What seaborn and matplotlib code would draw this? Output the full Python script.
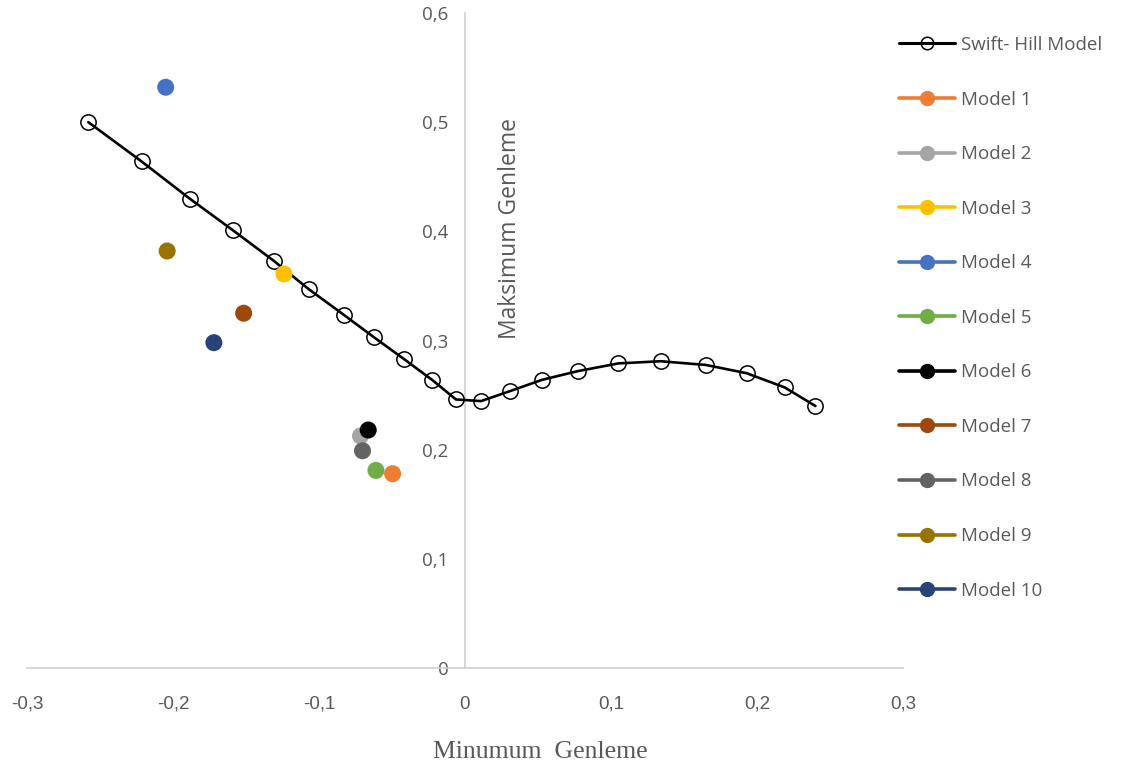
import matplotlib
matplotlib.use("Agg")
import matplotlib.pyplot as plt
from matplotlib.lines import Line2D
from matplotlib import font_manager
import seaborn as sns
import pandas as pd

# Swift-Hill yield curve (minimum vs maximum strain)
swift_x = [-0.258, -0.2215, -0.1886, -0.159, -0.131, -0.107, -0.083, -0.0624, -0.0418,
           -0.0226, -0.0062, 0.011, 0.031, 0.0528, 0.0775, 0.105, 0.134, 0.165, 0.193,
           0.219, 0.240]
swift_y = [0.500, 0.464, 0.430, 0.401, 0.373, 0.347, 0.3235, 0.303, 0.283,
           0.264, 0.246, 0.2445, 0.2537, 0.264, 0.272, 0.279, 0.281, 0.2776, 0.270,
           0.257, 0.240]

# Individual model predictions
model_names = ["Model 1", "Model 2", "Model 3", "Model 4", "Model 5",
               "Model 6", "Model 7", "Model 8", "Model 9", "Model 10"]
model_x = [-0.0496, -0.0716, -0.124, -0.205, -0.061, -0.0663, -0.1516, -0.0702, -0.204, -0.172]
model_y = [0.178, 0.2126, 0.361, 0.532, 0.181, 0.218, 0.325, 0.199, 0.382, 0.298]
model_colors = ["#ED7D31", "#A5A5A5", "#FFC000", "#4472C4", "#70AD47",
                "#000000", "#9E480E", "#636363", "#997300", "#264478"]

x_ticks = [-0.3, -0.2, -0.1, 0.0, 0.1, 0.2, 0.3]
x_tick_labels = ["-0,3", "-0,2", "-0,1", "0", "0,1", "0,2", "0,3"]
y_ticks = [0.0, 0.1, 0.2, 0.3, 0.4, 0.5, 0.6]
y_tick_labels = ["0", "0,1", "0,2", "0,3", "0,4", "0,5", "0,6"]

sns.set_style("white")


def pick_font(candidates):
    for name in candidates:
        try:
            font_manager.findfont(font_manager.FontProperties(family=name),
                                  fallback_to_default=False)
            return name
        except Exception:
            continue
    return "DejaVu Sans"


main_font = pick_font(["Open Sans", "Noto Sans", "DejaVu Sans"])
narrow_font = pick_font(["Liberation Sans Narrow", "Liberation Sans"])
serif_font = pick_font(["Liberation Serif", "DejaVu Serif"])
plt.rcParams["font.family"] = [main_font, "DejaVu Sans"]

text_color = "#595959"
axis_color = "#D0D0D0"

W, H = 1144, 774
fig = plt.figure(figsize=(W / 100, H / 100), dpi=100)
ax = fig.add_axes([27 / W, 1 - 668 / H, (903 - 27) / W, (668 - 13) / H])

# vertical axis crosses at x = 0 (set before tick styling, since it resets ticks)
ax.spines["left"].set_position(("data", 0))
ax.spines["top"].set_visible(False)
ax.spines["right"].set_visible(False)
for side in ("left", "bottom"):
    ax.spines[side].set_color(axis_color)
    ax.spines[side].set_linewidth(1.2)

swift_df = pd.DataFrame({"x": swift_x, "y": swift_y})
sns.lineplot(data=swift_df, x="x", y="y", sort=False, ax=ax, color="black",
             linewidth=1.9, marker="o", markersize=11,
             markeredgecolor="black", markeredgewidth=1.1, zorder=3)
# hollow circles: the curve shows through each marker
for line in ax.lines:
    line.set_markerfacecolor("none")

models_df = pd.DataFrame({"x": model_x, "y": model_y, "model": model_names})
sns.scatterplot(data=models_df, x="x", y="y", hue="model", hue_order=model_names,
                palette=model_colors, s=150, edgecolor="none", legend=False,
                ax=ax, zorder=4)

ax.set_xlim(-0.3, 0.3)
ax.set_ylim(0, 0.6)
ax.set_xticks(x_ticks)
ax.set_xticklabels(x_tick_labels, family=narrow_font, fontsize=13.5, color=text_color)
ax.set_yticks(y_ticks)
ax.set_yticklabels(y_tick_labels, fontsize=13.5, color=text_color)
ax.tick_params(axis="both", length=0)
ax.tick_params(axis="x", pad=20)
ax.tick_params(axis="y", pad=12)
ax.set_xlabel("")
ax.set_ylabel("")
ax.grid(False)

ax.text(0.031, 0.403, "Maksimum Genleme", rotation=90, ha="center", va="center",
        fontsize=16.5, color=text_color)
fig.text(540 / W, 1 - 752 / H, "Minumum  Genleme", ha="center", va="center",
         family=serif_font, fontsize=18.5, color=text_color)

handles = [Line2D([0], [0], color="black", linewidth=2.2, marker="o", markersize=9,
                  markerfacecolor="none", markeredgecolor="black", markeredgewidth=1.1)]
for c in model_colors:
    handles.append(Line2D([0], [0], color=c, linewidth=2.6, marker="o", markersize=10,
                          markerfacecolor=c, markeredgecolor=c))
labels = ["Swift- Hill Model"] + model_names
leg = fig.legend(handles, labels, loc="upper left",
                 bbox_to_anchor=(899 / W, 1 - 36 / H), frameon=False,
                 fontsize=13.5, labelspacing=1.95, handlelength=3.0,
                 handletextpad=0.3, borderaxespad=0, borderpad=0)
for t in leg.get_texts():
    t.set_color(text_color)

fig.savefig("out.png", dpi=100)
